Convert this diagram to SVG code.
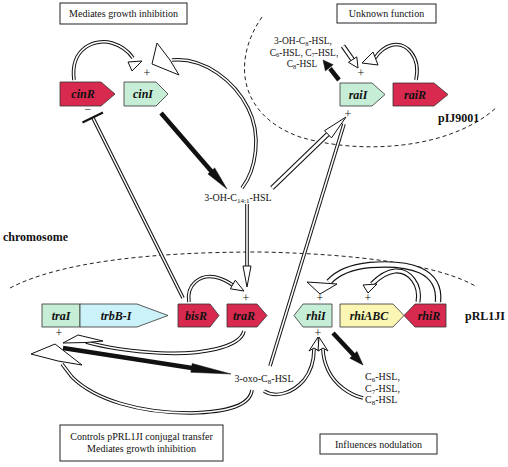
<svg xmlns="http://www.w3.org/2000/svg" width="508" height="467" viewBox="0 0 508 467">
<style>
text{font-family:"Liberation Serif","Times New Roman",serif;fill:#111}
.lbl{font-size:10px}
.sm{font-size:9.5px}
.gn{font-size:12px;font-weight:bold;font-style:italic;text-anchor:middle}
.rep{font-size:12px;font-weight:bold}
.pm{font-size:12px;text-anchor:middle}
.box{fill:#fff;stroke:#222;stroke-width:1}
.red{fill:#d8294f;stroke:#333;stroke-width:0.8}
.grn{fill:#c6edd5;stroke:#333;stroke-width:0.8}
.cyn{fill:#cbf2f8;stroke:#333;stroke-width:0.8}
.yel{fill:#fbf6b4;stroke:#333;stroke-width:0.8}
.dash{fill:none;stroke:#222;stroke-width:1;stroke-dasharray:4 3}
.o{fill:none;stroke:#111;stroke-width:3.6}
.i{fill:none;stroke:#fff;stroke-width:1.6}
.o5{fill:none;stroke:#111;stroke-width:5}
.i5{fill:none;stroke:#fff;stroke-width:2.8}
.o7{fill:none;stroke:#111;stroke-width:6.5}
.i7{fill:none;stroke:#fff;stroke-width:4.2}
.ah{fill:#fff;stroke:#111;stroke-width:1;stroke-linejoin:miter}
.blk{fill:none;stroke:#111;stroke-width:4.5}
.bh{fill:#111;stroke:#111;stroke-width:0.5}
</style>
<defs>
<path id="p1" d="M74,80 C70,48 95,38 112,43 C122,46 129,52 133,58"/>
<path id="p2" d="M242,188 C256,170 262,135 248,108 C235,82 205,57 172,60"/>
<path id="p4" d="M247,204 L247,268"/>
<path id="p5" d="M183,298 L93,118"/>
<path id="p6" d="M189,302 C186,285 200,274 215,277 C224,279 230,283 234,286"/>
<path id="p7" d="M272,188 L328,134"/>
<path id="p8" d="M270,366 L344,124"/>
<path id="p9" d="M416,80 C421,56 406,42 392,45 C384,47 379,52 375,58"/>
<path id="p10" d="M343,46 L352.6,59.6"/>
<path id="p12" d="M244,331 C240,348 200,355 160,353 C125,351 100,346 86,342"/>
<path id="p14" d="M252,390 C250,405 230,412 190,413 C140,413 95,400 72,377 L62,364"/>
<path id="p15" d="M264,391 C275,398 292,394 304,380 C312,370 314,358 314,349"/>
<path id="p16" d="M363,398 C350,395 335,385 328,370 C324,361 323,355 323,349"/>
<path id="p18" d="M418,302 C421,285 410,270 395,271 C385,272 377,279 372,284"/>
<path id="p19" d="M438,302 C441,270 410,262 370,265 C350,267 337,273 329,282"/>
</defs>

<!-- boundaries and labels -->
<g id="boundaries">
<path class="dash" d="M262,17 C232,60 238,115 300,137 C360,155 450,150 497,107"/>
<path class="dash" d="M10,288 C60,262 150,252 260,252 C360,254 440,265 477,287"/>
<text class="rep" x="438" y="122">pIJ9001</text>
<text class="rep" x="3" y="241">chromosome</text>
<text class="rep" x="465" y="320">pRL1JI</text>
</g>

<g id="connectors">
<use href="#p1" class="o"/><use href="#p1" class="i"/>
<polygon class="ah" points="128,62 142,61 132,71"/>
<use href="#p2" class="o"/><use href="#p2" class="i"/>
<polygon class="ah" points="157,43 152,64 179,75 170,60"/>
<line class="blk" x1="161" y1="113" x2="212" y2="172"/>
<polygon class="bh" points="227,189 207.9,173.9 214.7,167.9"/>
<use href="#p4" class="o"/><use href="#p4" class="i"/>
<polygon class="ah" points="243,266 251,266 247,287"/>
<use href="#p5" class="o"/><use href="#p5" class="i"/>
<line x1="82.5" y1="122.5" x2="103" y2="112.5" stroke="#111" stroke-width="2"/>
<use href="#p6" class="o"/><use href="#p6" class="i"/>
<polygon class="ah" points="244,291 230.3,288.8 235.3,280.2"/>
<use href="#p8" class="o"/><use href="#p8" class="i"/>
<use href="#p7" class="o5"/><use href="#p7" class="i5"/>
<polygon class="ah" points="346,117 331.5,137.9 324.5,130.7"/>
<use href="#p9" class="o"/><use href="#p9" class="i"/>
<polygon class="ah" points="362,63 373,52 378,65"/>
<use href="#p10" class="o5"/><use href="#p10" class="i5"/>
<polygon class="ah" points="358,68 348.4,62.3 356.8,56.9"/>
<line class="blk" x1="339" y1="80" x2="330" y2="68.5"/>
<polygon class="bh" points="323,60 333.2,64.7 325.4,70.9"/>
<use href="#p12" class="o"/><use href="#p12" class="i"/>
<polygon class="ah" points="63,343 78,335 103,341 86,342.5"/>
<line class="blk" x1="63" y1="348" x2="192" y2="368"/>
<polygon class="bh" points="231,374 190.8,372.3 192.2,363.5"/>
<use href="#p14" class="o"/><use href="#p14" class="i"/>
<polygon class="ah" points="31,354 55,344 82,365 58,361"/>
<use href="#p15" class="o"/><use href="#p15" class="i"/>
<use href="#p16" class="o"/><use href="#p16" class="i"/>
<polygon class="ah" points="318,337 309,351 314,348 319,351"/>
<polygon class="ah" points="319,337 328,351 323,348 318,351"/>
<line class="blk" x1="333" y1="333" x2="354" y2="355.5"/>
<polygon class="bh" points="363,365 349.8,358.2 357,351.4"/>
<use href="#p18" class="o5"/><use href="#p18" class="i5"/>
<polygon class="ah" points="363,285 377,284 368,293"/>
<use href="#p19" class="o7"/><use href="#p19" class="i7"/>
<polygon class="ah" points="307,282 337,284 320,294"/>
</g>

<!-- signs -->
<g id="signs">
<text class="pm" x="147" y="77">+</text>
<text class="pm" x="88" y="113">−</text>
<text class="pm" x="361" y="77">+</text>
<text class="pm" x="348" y="118">+</text>
<text class="pm" x="246" y="302">+</text>
<text class="pm" x="59" y="337">+</text>
<text class="pm" x="320" y="302">+</text>
<text class="pm" x="368" y="302">+</text>
<text class="pm" x="318" y="337">+</text>
</g>

<!-- text boxes -->
<g id="box-cin">
<rect class="box" x="60" y="3" width="127" height="21"/>
<text class="lbl" x="123.5" y="17" text-anchor="middle">Mediates growth inhibition</text>
</g>
<g id="box-rai">
<rect class="box" x="337" y="4" width="99" height="19"/>
<text class="lbl" x="386.5" y="17" text-anchor="middle">Unknown function</text>
</g>
<g id="box-tra">
<rect class="box" x="60" y="425" width="163" height="36"/>
<text class="lbl" x="141.5" y="440" text-anchor="middle">Controls pPRL1JI conjugal transfer</text>
<text class="lbl" x="141.5" y="452" text-anchor="middle">Mediates growth inhibition</text>
</g>
<g id="box-rhi">
<rect class="box" x="320" y="434" width="117" height="20"/>
<text class="lbl" x="378.5" y="448" text-anchor="middle">Influences nodulation</text>
</g>

<!-- signal molecules -->
<g id="sig-rai">
<text class="sm" x="303" y="44" text-anchor="middle">3-OH-C<tspan dy="1.5" font-size="6.5">8</tspan><tspan dy="-1.5">-HSL,</tspan></text>
<text class="sm" x="304" y="55.5" text-anchor="middle">C<tspan dy="1.5" font-size="6.5">6</tspan><tspan dy="-1.5">-HSL, C</tspan><tspan dy="1.5" font-size="6.5">7</tspan><tspan dy="-1.5">-HSL,</tspan></text>
<text class="sm" x="302" y="67" text-anchor="middle">C<tspan dy="1.5" font-size="6.5">8</tspan><tspan dy="-1.5">-HSL</tspan></text>
</g>
<g id="sig-cin">
<text class="lbl" x="238" y="201" text-anchor="middle">3-OH-C<tspan dy="2" font-size="7">14:1</tspan><tspan dy="-2">-HSL</tspan></text>
</g>
<g id="sig-tra">
<text class="lbl" x="264" y="382" text-anchor="middle">3-oxo-C<tspan dy="2" font-size="7">8</tspan><tspan dy="-2">-HSL</tspan></text>
</g>
<g id="sig-rhi">
<text class="lbl" x="365" y="380">C<tspan dy="2" font-size="7">6</tspan><tspan dy="-2">-HSL,</tspan></text>
<text class="lbl" x="365" y="391.5">C<tspan dy="2" font-size="7">7</tspan><tspan dy="-2">-HSL,</tspan></text>
<text class="lbl" x="365" y="403">C<tspan dy="2" font-size="7">8</tspan><tspan dy="-2">-HSL</tspan></text>
</g>

<!-- genes -->
<g id="cinR"><polygon class="red" points="60,82 101,82 115,94 101,106 60,106"/><text class="gn" x="83" y="98">cinR</text></g>
<g id="cinI"><polygon class="grn" points="124,82 156,82 168,94 156,106 124,106"/><text class="gn" x="143" y="98">cinI</text></g>
<g id="raiI"><polygon class="grn" points="340,83 372,83 385,94.5 372,106 340,106"/><text class="gn" x="358" y="98.5">raiI</text></g>
<g id="raiR"><polygon class="red" points="393,83 434,83 448,94.5 434,106 393,106"/><text class="gn" x="415" y="98.5">raiR</text></g>
<g id="traI"><rect class="grn" x="42" y="304" width="38" height="23"/><text class="gn" x="61" y="320">traI</text></g>
<g id="trbB-I"><polygon class="cyn" points="80,304 137,304 168,315.5 137,327 80,327"/><text class="gn" x="116" y="320">trbB-I</text></g>
<g id="bisR"><polygon class="red" points="178,304 210,304 219,315.5 210,327 178,327"/><text class="gn" x="196" y="320">bisR</text></g>
<g id="traR"><polygon class="red" points="227,304 257,304 267,315.5 257,327 227,327"/><text class="gn" x="244" y="320">traR</text></g>
<g id="rhiI"><polygon class="grn" points="294,315.5 303,304 332,304 332,327 303,327"/><text class="gn" x="316" y="320">rhiI</text></g>
<g id="rhiABC"><polygon class="yel" points="340,304 393,304 404,315.5 393,327 340,327"/><text class="gn" x="369" y="320">rhiABC</text></g>
<g id="rhiR"><polygon class="red" points="404,315.5 415,304 446,304 446,327 415,327"/><text class="gn" x="429" y="320">rhiR</text></g>
</svg>
